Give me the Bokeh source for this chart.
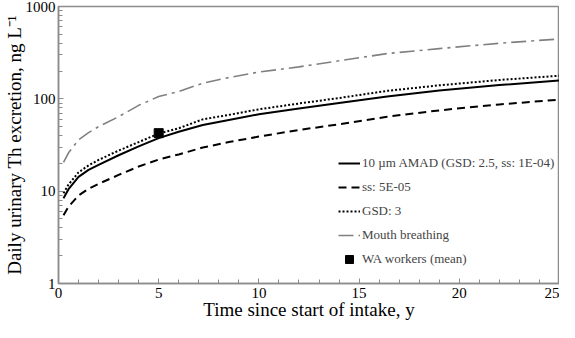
from bokeh.plotting import figure
from bokeh.models import Legend, LegendItem, Range1d, FixedTicker
from bokeh.embed import file_html
from bokeh.resources import INLINE

# Time since start of intake (years)
years = [0.25, 0.5, 1, 1.5, 2, 3, 4, 5, 6, 7.2, 8.5, 10, 12, 14, 16.4, 19, 22, 25]
# Daily urinary Th excretion, ng/L
amad_10um = [8.4, 10.5, 14.3, 17.0, 19.3, 24.5, 30.5, 37.5, 44, 52, 59, 68, 78.5, 90, 106, 123, 141, 158]
ss_5e05 = [5.5, 6.8, 9.0, 10.6, 12.0, 15.0, 18.5, 22, 25, 29.7, 34, 39, 46, 53, 64, 75, 87, 98]
gsd_3 = [9.5, 11.8, 16.0, 19.0, 21.8, 27.5, 34, 42, 48, 60, 67, 77, 89, 102, 122, 140, 160, 178]
mouth = [20.5, 26, 36, 43, 50, 64, 85, 106, 120, 148, 170, 195, 222, 258, 309, 350, 400, 445]
wa_year = [5]
wa_mean = [42.5]

x_ticks = [0, 5, 10, 15, 20, 25]
y_ticks = [1, 10, 100, 1000]

FONT = "Times New Roman"
GRAY = "#8c8c8c"

p = figure(width=559, height=322, y_axis_type="log",
           x_range=Range1d(0, 25), y_range=Range1d(1, 1000),
           output_backend="svg", toolbar_location=None,
           min_border_left=0, min_border_right=0, min_border_top=6, min_border_bottom=0)

r1 = p.line(years, amad_10um, line_color="black", line_width=2)
r2 = p.line(years, ss_5e05, line_color="black", line_width=2, line_dash="8 5")
r3 = p.line(years, gsd_3, line_color="black", line_width=2, line_dash="2 2")
r4 = p.line(years, mouth, line_color="#808080", line_width=1.6, line_dash="15 5 3 5")
r5 = p.scatter(wa_year, wa_mean, marker="square", size=9, fill_color="black", line_color="black")

p.grid.visible = False
p.outline_line_color = GRAY
p.outline_line_width = 1.5
p.background_fill_color = "white"
p.border_fill_color = "white"

p.xaxis.ticker = FixedTicker(ticks=x_ticks, minor_ticks=list(range(0, 26)))
p.yaxis.ticker.num_minor_ticks = 10

for ax in (p.xaxis[0], p.yaxis[0]):
    ax.axis_line_color = GRAY
    ax.axis_line_width = 1.5
    ax.major_tick_line_color = GRAY
    ax.minor_tick_line_color = GRAY
    ax.major_tick_in = 5
    ax.major_tick_out = 0
    ax.minor_tick_in = 4
    ax.minor_tick_out = 0
    ax.major_label_text_font = FONT
    ax.major_label_text_font_size = "15px"
    ax.major_label_text_color = "black"
    ax.axis_label_text_font = FONT
    ax.axis_label_text_font_size = "19px"
    ax.axis_label_text_font_style = "normal"
    ax.axis_label_text_color = "black"

p.xaxis.axis_label = "Time since start of intake, y"
p.yaxis.axis_label = "Daily urinary Th excretion, ng L\u207b\u00b9"
p.xaxis.major_label_standoff = 4
p.xaxis.axis_label_standoff = -2
p.yaxis.major_label_standoff = 3
p.yaxis.axis_label_standoff = -2
p.yaxis.major_label_overrides = {1: "1", 10: "10", 100: "100", 1000: "1000"}

legend = Legend(items=[
    LegendItem(label="10 \u00b5m AMAD (GSD: 2.5, ss: 1E-04)", renderers=[r1]),
    LegendItem(label="ss: 5E-05", renderers=[r2]),
    LegendItem(label="GSD: 3", renderers=[r3]),
    LegendItem(label="Mouth breathing", renderers=[r4]),
    LegendItem(label="WA workers (mean)", renderers=[r5]),
], location=(280, 14))
legend.border_line_color = None
legend.background_fill_alpha = 0
legend.label_text_font = FONT
legend.label_text_font_size = "13px"
legend.glyph_width = 22
legend.glyph_height = 20
legend.spacing = 4
legend.label_standoff = 2
legend.padding = 0
legend.margin = 0
p.add_layout(legend, "center")

open("out.html", "w").write(file_html(p, INLINE))
